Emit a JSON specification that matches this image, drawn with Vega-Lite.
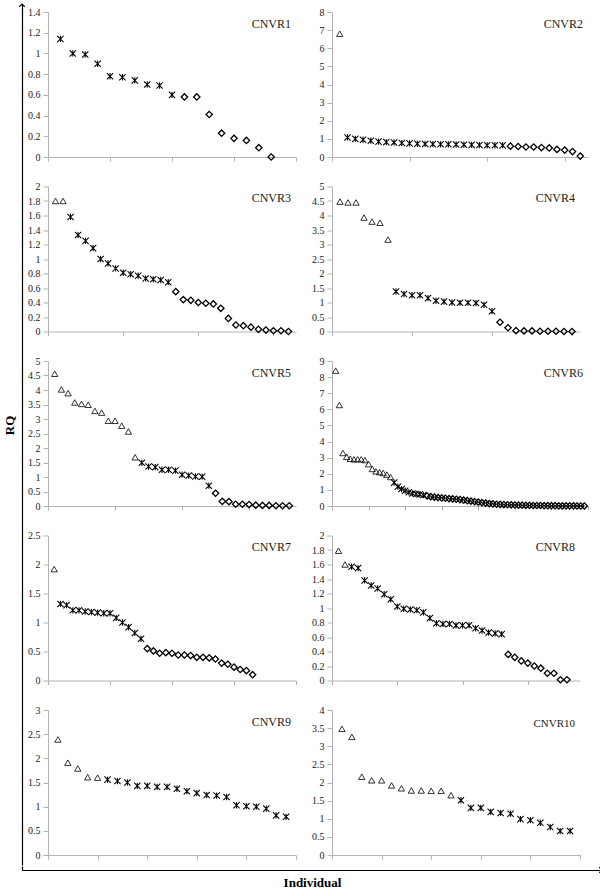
{
  "$schema": "https://vega.github.io/schema/vega-lite/v6.json",
  "padding": {"left": 4, "top": 1, "right": 0, "bottom": 0},
  "background": "white",
  "config": {
    "font": "Liberation Serif",
    "view": {"stroke": null},
    "axis": {"grid": false, "domainColor": "#b3b3b3", "tickColor": "#b3b3b3", "labelFont": "Liberation Serif", "labelFontSize": 10, "labelColor": "#222222", "tickSize": 4, "labelPadding": 3},
    "axisY": {"tickSize": 5},
    "axisX": {"labels": false},
    "title": {"font": "Liberation Serif", "fontSize": 12, "fontWeight": "normal", "color": "#222222", "anchor": "end", "frame": "group", "offset": -23.5, "dx": -5},
    "point": {"filled": false, "stroke": "black", "strokeWidth": 0.9, "size": 40, "opacity": 1}
  },
  "title": {"text": "RQ", "orient": "left", "anchor": "middle", "frame": "bounds", "offset": 0, "dx": 20, "fontSize": 13, "fontWeight": "bold", "color": "black", "font": "Liberation Serif"},
  "datasets": {
    "c1": [
      {"i": 1, "rq": 1.14, "t": "ast"}, {"i": 2, "rq": 1.0, "t": "ast"}, {"i": 3, "rq": 0.99, "t": "ast"}, {"i": 4, "rq": 0.9, "t": "ast"}, {"i": 5, "rq": 0.78, "t": "ast"}, {"i": 6, "rq": 0.77, "t": "ast"}, {"i": 7, "rq": 0.74, "t": "ast"}, {"i": 8, "rq": 0.7, "t": "ast"}, {"i": 9, "rq": 0.69, "t": "ast"}, {"i": 10, "rq": 0.6, "t": "ast"},
      {"i": 11, "rq": 0.58, "t": "dia"}, {"i": 12, "rq": 0.58, "t": "dia"}, {"i": 13, "rq": 0.41, "t": "dia"}, {"i": 14, "rq": 0.23, "t": "dia"}, {"i": 15, "rq": 0.18, "t": "dia"}, {"i": 16, "rq": 0.16, "t": "dia"}, {"i": 17, "rq": 0.09, "t": "dia"}, {"i": 18, "rq": 0.0, "t": "dia"}
    ],
    "c2": [
      {"i": 1, "rq": 6.8, "t": "tri"},
      {"i": 2, "rq": 1.08, "t": "ast"}, {"i": 3, "rq": 1.0, "t": "ast"}, {"i": 4, "rq": 0.95, "t": "ast"}, {"i": 5, "rq": 0.9, "t": "ast"}, {"i": 6, "rq": 0.85, "t": "ast"}, {"i": 7, "rq": 0.82, "t": "ast"}, {"i": 8, "rq": 0.8, "t": "ast"}, {"i": 9, "rq": 0.77, "t": "ast"}, {"i": 10, "rq": 0.75, "t": "ast"}, {"i": 11, "rq": 0.73, "t": "ast"}, {"i": 12, "rq": 0.72, "t": "ast"}, {"i": 13, "rq": 0.71, "t": "ast"}, {"i": 14, "rq": 0.7, "t": "ast"}, {"i": 15, "rq": 0.7, "t": "ast"}, {"i": 16, "rq": 0.69, "t": "ast"}, {"i": 17, "rq": 0.68, "t": "ast"}, {"i": 18, "rq": 0.67, "t": "ast"}, {"i": 19, "rq": 0.66, "t": "ast"}, {"i": 20, "rq": 0.65, "t": "ast"}, {"i": 21, "rq": 0.65, "t": "ast"}, {"i": 22, "rq": 0.64, "t": "ast"},
      {"i": 23, "rq": 0.6, "t": "dia"}, {"i": 24, "rq": 0.58, "t": "dia"}, {"i": 25, "rq": 0.55, "t": "dia"}, {"i": 26, "rq": 0.55, "t": "dia"}, {"i": 27, "rq": 0.52, "t": "dia"}, {"i": 28, "rq": 0.5, "t": "dia"}, {"i": 29, "rq": 0.42, "t": "dia"}, {"i": 30, "rq": 0.38, "t": "dia"}, {"i": 31, "rq": 0.3, "t": "dia"}, {"i": 32, "rq": 0.05, "t": "dia"}
    ],
    "c3": [
      {"i": 1, "rq": 1.8, "t": "tri"}, {"i": 2, "rq": 1.8, "t": "tri"},
      {"i": 3, "rq": 1.58, "t": "ast"}, {"i": 4, "rq": 1.33, "t": "ast"}, {"i": 5, "rq": 1.25, "t": "ast"}, {"i": 6, "rq": 1.15, "t": "ast"}, {"i": 7, "rq": 1.0, "t": "ast"}, {"i": 8, "rq": 0.94, "t": "ast"}, {"i": 9, "rq": 0.87, "t": "ast"}, {"i": 10, "rq": 0.81, "t": "ast"}, {"i": 11, "rq": 0.79, "t": "ast"}, {"i": 12, "rq": 0.77, "t": "ast"}, {"i": 13, "rq": 0.73, "t": "ast"}, {"i": 14, "rq": 0.72, "t": "ast"}, {"i": 15, "rq": 0.71, "t": "ast"}, {"i": 16, "rq": 0.68, "t": "ast"},
      {"i": 17, "rq": 0.55, "t": "dia"}, {"i": 18, "rq": 0.44, "t": "dia"}, {"i": 19, "rq": 0.43, "t": "dia"}, {"i": 20, "rq": 0.4, "t": "dia"}, {"i": 21, "rq": 0.39, "t": "dia"}, {"i": 22, "rq": 0.38, "t": "dia"}, {"i": 23, "rq": 0.32, "t": "dia"}, {"i": 24, "rq": 0.18, "t": "dia"}, {"i": 25, "rq": 0.09, "t": "dia"}, {"i": 26, "rq": 0.08, "t": "dia"}, {"i": 27, "rq": 0.06, "t": "dia"}, {"i": 28, "rq": 0.03, "t": "dia"}, {"i": 29, "rq": 0.02, "t": "dia"}, {"i": 30, "rq": 0.01, "t": "dia"}, {"i": 31, "rq": 0.01, "t": "dia"}, {"i": 32, "rq": 0.0, "t": "dia"}
    ],
    "c4": [
      {"i": 1, "rq": 4.48, "t": "tri"}, {"i": 2, "rq": 4.45, "t": "tri"}, {"i": 3, "rq": 4.45, "t": "tri"}, {"i": 4, "rq": 3.93, "t": "tri"}, {"i": 5, "rq": 3.79, "t": "tri"}, {"i": 6, "rq": 3.75, "t": "tri"}, {"i": 7, "rq": 3.17, "t": "tri"},
      {"i": 8, "rq": 1.38, "t": "ast"}, {"i": 9, "rq": 1.29, "t": "ast"}, {"i": 10, "rq": 1.25, "t": "ast"}, {"i": 11, "rq": 1.25, "t": "ast"}, {"i": 12, "rq": 1.15, "t": "ast"}, {"i": 13, "rq": 1.06, "t": "ast"}, {"i": 14, "rq": 1.03, "t": "ast"}, {"i": 15, "rq": 1.0, "t": "ast"}, {"i": 16, "rq": 0.99, "t": "ast"}, {"i": 17, "rq": 0.99, "t": "ast"}, {"i": 18, "rq": 0.98, "t": "ast"}, {"i": 19, "rq": 0.92, "t": "ast"}, {"i": 20, "rq": 0.7, "t": "ast"},
      {"i": 21, "rq": 0.32, "t": "dia"}, {"i": 22, "rq": 0.13, "t": "dia"}, {"i": 23, "rq": 0.03, "t": "dia"}, {"i": 24, "rq": 0.02, "t": "dia"}, {"i": 25, "rq": 0.02, "t": "dia"}, {"i": 26, "rq": 0.01, "t": "dia"}, {"i": 27, "rq": 0.01, "t": "dia"}, {"i": 28, "rq": 0.01, "t": "dia"}, {"i": 29, "rq": 0.0, "t": "dia"}, {"i": 30, "rq": 0.0, "t": "dia"}
    ],
    "c5": [
      {"i": 1, "rq": 4.56, "t": "tri"}, {"i": 2, "rq": 4.02, "t": "tri"}, {"i": 3, "rq": 3.89, "t": "tri"}, {"i": 4, "rq": 3.57, "t": "tri"}, {"i": 5, "rq": 3.52, "t": "tri"}, {"i": 6, "rq": 3.49, "t": "tri"}, {"i": 7, "rq": 3.28, "t": "tri"}, {"i": 8, "rq": 3.22, "t": "tri"}, {"i": 9, "rq": 2.94, "t": "tri"}, {"i": 10, "rq": 2.94, "t": "tri"}, {"i": 11, "rq": 2.77, "t": "tri"}, {"i": 12, "rq": 2.57, "t": "tri"}, {"i": 13, "rq": 1.68, "t": "tri"},
      {"i": 14, "rq": 1.49, "t": "ast"}, {"i": 15, "rq": 1.36, "t": "ast"}, {"i": 16, "rq": 1.34, "t": "ast"}, {"i": 17, "rq": 1.25, "t": "ast"}, {"i": 18, "rq": 1.25, "t": "ast"}, {"i": 19, "rq": 1.22, "t": "ast"}, {"i": 20, "rq": 1.08, "t": "ast"}, {"i": 21, "rq": 1.05, "t": "ast"}, {"i": 22, "rq": 1.02, "t": "ast"}, {"i": 23, "rq": 1.01, "t": "ast"}, {"i": 24, "rq": 0.7, "t": "ast"},
      {"i": 25, "rq": 0.44, "t": "dia"}, {"i": 26, "rq": 0.16, "t": "dia"}, {"i": 27, "rq": 0.15, "t": "dia"}, {"i": 28, "rq": 0.06, "t": "dia"}, {"i": 29, "rq": 0.06, "t": "dia"}, {"i": 30, "rq": 0.05, "t": "dia"}, {"i": 31, "rq": 0.03, "t": "dia"}, {"i": 32, "rq": 0.02, "t": "dia"}, {"i": 33, "rq": 0.02, "t": "dia"}, {"i": 34, "rq": 0.01, "t": "dia"}, {"i": 35, "rq": 0.01, "t": "dia"}, {"i": 36, "rq": 0.01, "t": "dia"}
    ],
    "c6": [
      {"i": 1, "rq": 8.4, "t": "tri"}, {"i": 2, "rq": 6.27, "t": "tri"}, {"i": 3, "rq": 3.29, "t": "tri"}, {"i": 4, "rq": 3.05, "t": "tri"}, {"i": 5, "rq": 2.93, "t": "tri"}, {"i": 6, "rq": 2.9, "t": "tri"}, {"i": 7, "rq": 2.9, "t": "tri"}, {"i": 8, "rq": 2.9, "t": "tri"}, {"i": 9, "rq": 2.85, "t": "tri"}, {"i": 10, "rq": 2.6, "t": "tri"}, {"i": 11, "rq": 2.3, "t": "tri"}, {"i": 12, "rq": 2.15, "t": "tri"}, {"i": 13, "rq": 2.1, "t": "tri"}, {"i": 14, "rq": 2.05, "t": "tri"}, {"i": 15, "rq": 1.95, "t": "tri"}, {"i": 16, "rq": 1.8, "t": "tri"},
      {"i": 17, "rq": 1.45, "t": "ast"}, {"i": 18, "rq": 1.2, "t": "ast"}, {"i": 19, "rq": 1.05, "t": "ast"}, {"i": 20, "rq": 0.95, "t": "ast"}, {"i": 21, "rq": 0.85, "t": "ast"}, {"i": 22, "rq": 0.78, "t": "ast"}, {"i": 23, "rq": 0.75, "t": "ast"}, {"i": 24, "rq": 0.72, "t": "ast"}, {"i": 25, "rq": 0.68, "t": "ast"},
      {"i": 26, "rq": 0.62, "t": "dia"}, {"i": 27, "rq": 0.58, "t": "dia"}, {"i": 28, "rq": 0.55, "t": "dia"}, {"i": 29, "rq": 0.52, "t": "dia"}, {"i": 30, "rq": 0.5, "t": "dia"}, {"i": 31, "rq": 0.48, "t": "dia"}, {"i": 32, "rq": 0.46, "t": "dia"}, {"i": 33, "rq": 0.44, "t": "dia"}, {"i": 34, "rq": 0.42, "t": "dia"}, {"i": 35, "rq": 0.4, "t": "dia"}, {"i": 36, "rq": 0.36, "t": "dia"}, {"i": 37, "rq": 0.33, "t": "dia"}, {"i": 38, "rq": 0.3, "t": "dia"}, {"i": 39, "rq": 0.27, "t": "dia"}, {"i": 40, "rq": 0.24, "t": "dia"}, {"i": 41, "rq": 0.21, "t": "dia"}, {"i": 42, "rq": 0.18, "t": "dia"}, {"i": 43, "rq": 0.15, "t": "dia"}, {"i": 44, "rq": 0.13, "t": "dia"}, {"i": 45, "rq": 0.11, "t": "dia"}, {"i": 46, "rq": 0.1, "t": "dia"}, {"i": 47, "rq": 0.09, "t": "dia"}, {"i": 48, "rq": 0.08, "t": "dia"}, {"i": 49, "rq": 0.07, "t": "dia"}, {"i": 50, "rq": 0.06, "t": "dia"}, {"i": 51, "rq": 0.05, "t": "dia"}, {"i": 52, "rq": 0.05, "t": "dia"}, {"i": 53, "rq": 0.04, "t": "dia"}, {"i": 54, "rq": 0.04, "t": "dia"}, {"i": 55, "rq": 0.03, "t": "dia"}, {"i": 56, "rq": 0.03, "t": "dia"}, {"i": 57, "rq": 0.03, "t": "dia"}, {"i": 58, "rq": 0.02, "t": "dia"}, {"i": 59, "rq": 0.02, "t": "dia"}, {"i": 60, "rq": 0.02, "t": "dia"}, {"i": 61, "rq": 0.02, "t": "dia"}, {"i": 62, "rq": 0.01, "t": "dia"}, {"i": 63, "rq": 0.01, "t": "dia"}, {"i": 64, "rq": 0.01, "t": "dia"}, {"i": 65, "rq": 0.01, "t": "dia"}, {"i": 66, "rq": 0.01, "t": "dia"}, {"i": 67, "rq": 0.0, "t": "dia"}, {"i": 68, "rq": 0.0, "t": "dia"}, {"i": 69, "rq": 0.0, "t": "dia"}
    ],
    "c7": [
      {"i": 1, "rq": 1.92, "t": "tri"},
      {"i": 2, "rq": 1.32, "t": "ast"}, {"i": 3, "rq": 1.3, "t": "ast"}, {"i": 4, "rq": 1.21, "t": "ast"}, {"i": 5, "rq": 1.21, "t": "ast"}, {"i": 6, "rq": 1.19, "t": "ast"}, {"i": 7, "rq": 1.18, "t": "ast"}, {"i": 8, "rq": 1.17, "t": "ast"}, {"i": 9, "rq": 1.16, "t": "ast"}, {"i": 10, "rq": 1.16, "t": "ast"}, {"i": 11, "rq": 1.08, "t": "ast"}, {"i": 12, "rq": 1.0, "t": "ast"}, {"i": 13, "rq": 0.92, "t": "ast"}, {"i": 14, "rq": 0.82, "t": "ast"}, {"i": 15, "rq": 0.72, "t": "ast"},
      {"i": 16, "rq": 0.55, "t": "dia"}, {"i": 17, "rq": 0.51, "t": "dia"}, {"i": 18, "rq": 0.47, "t": "dia"}, {"i": 19, "rq": 0.48, "t": "dia"}, {"i": 20, "rq": 0.47, "t": "dia"}, {"i": 21, "rq": 0.44, "t": "dia"}, {"i": 22, "rq": 0.44, "t": "dia"}, {"i": 23, "rq": 0.43, "t": "dia"}, {"i": 24, "rq": 0.4, "t": "dia"}, {"i": 25, "rq": 0.4, "t": "dia"}, {"i": 26, "rq": 0.39, "t": "dia"}, {"i": 27, "rq": 0.37, "t": "dia"}, {"i": 28, "rq": 0.3, "t": "dia"}, {"i": 29, "rq": 0.28, "t": "dia"}, {"i": 30, "rq": 0.23, "t": "dia"}, {"i": 31, "rq": 0.19, "t": "dia"}, {"i": 32, "rq": 0.17, "t": "dia"}, {"i": 33, "rq": 0.1, "t": "dia"}
    ],
    "c8": [
      {"i": 1, "rq": 1.79, "t": "tri"}, {"i": 2, "rq": 1.6, "t": "tri"},
      {"i": 3, "rq": 1.57, "t": "ast"}, {"i": 4, "rq": 1.55, "t": "ast"}, {"i": 5, "rq": 1.38, "t": "ast"}, {"i": 6, "rq": 1.31, "t": "ast"}, {"i": 7, "rq": 1.27, "t": "ast"}, {"i": 8, "rq": 1.19, "t": "ast"}, {"i": 9, "rq": 1.12, "t": "ast"}, {"i": 10, "rq": 1.02, "t": "ast"}, {"i": 11, "rq": 0.99, "t": "ast"}, {"i": 12, "rq": 0.98, "t": "ast"}, {"i": 13, "rq": 0.97, "t": "ast"}, {"i": 14, "rq": 0.94, "t": "ast"}, {"i": 15, "rq": 0.86, "t": "ast"}, {"i": 16, "rq": 0.79, "t": "ast"}, {"i": 17, "rq": 0.78, "t": "ast"}, {"i": 18, "rq": 0.78, "t": "ast"}, {"i": 19, "rq": 0.76, "t": "ast"}, {"i": 20, "rq": 0.76, "t": "ast"}, {"i": 21, "rq": 0.76, "t": "ast"}, {"i": 22, "rq": 0.72, "t": "ast"}, {"i": 23, "rq": 0.69, "t": "ast"}, {"i": 24, "rq": 0.66, "t": "ast"}, {"i": 25, "rq": 0.65, "t": "ast"}, {"i": 26, "rq": 0.64, "t": "ast"},
      {"i": 27, "rq": 0.36, "t": "dia"}, {"i": 28, "rq": 0.32, "t": "dia"}, {"i": 29, "rq": 0.27, "t": "dia"}, {"i": 30, "rq": 0.24, "t": "dia"}, {"i": 31, "rq": 0.2, "t": "dia"}, {"i": 32, "rq": 0.17, "t": "dia"}, {"i": 33, "rq": 0.1, "t": "dia"}, {"i": 34, "rq": 0.1, "t": "dia"}, {"i": 35, "rq": 0.01, "t": "dia"}, {"i": 36, "rq": 0.01, "t": "dia"}
    ],
    "c9": [
      {"i": 1, "rq": 2.39, "t": "tri"}, {"i": 2, "rq": 1.91, "t": "tri"}, {"i": 3, "rq": 1.79, "t": "tri"}, {"i": 4, "rq": 1.61, "t": "tri"}, {"i": 5, "rq": 1.6, "t": "tri"},
      {"i": 6, "rq": 1.56, "t": "ast"}, {"i": 7, "rq": 1.53, "t": "ast"}, {"i": 8, "rq": 1.5, "t": "ast"}, {"i": 9, "rq": 1.43, "t": "ast"}, {"i": 10, "rq": 1.43, "t": "ast"}, {"i": 11, "rq": 1.41, "t": "ast"}, {"i": 12, "rq": 1.41, "t": "ast"}, {"i": 13, "rq": 1.37, "t": "ast"}, {"i": 14, "rq": 1.32, "t": "ast"}, {"i": 15, "rq": 1.28, "t": "ast"}, {"i": 16, "rq": 1.24, "t": "ast"}, {"i": 17, "rq": 1.23, "t": "ast"}, {"i": 18, "rq": 1.2, "t": "ast"}, {"i": 19, "rq": 1.03, "t": "ast"}, {"i": 20, "rq": 1.01, "t": "ast"}, {"i": 21, "rq": 1.0, "t": "ast"}, {"i": 22, "rq": 0.96, "t": "ast"}, {"i": 23, "rq": 0.82, "t": "ast"}, {"i": 24, "rq": 0.79, "t": "ast"}
    ],
    "c10": [
      {"i": 1, "rq": 3.48, "t": "tri"}, {"i": 2, "rq": 3.26, "t": "tri"}, {"i": 3, "rq": 2.16, "t": "tri"}, {"i": 4, "rq": 2.06, "t": "tri"}, {"i": 5, "rq": 2.06, "t": "tri"}, {"i": 6, "rq": 1.92, "t": "tri"}, {"i": 7, "rq": 1.84, "t": "tri"}, {"i": 8, "rq": 1.78, "t": "tri"}, {"i": 9, "rq": 1.78, "t": "tri"}, {"i": 10, "rq": 1.77, "t": "tri"}, {"i": 11, "rq": 1.77, "t": "tri"}, {"i": 12, "rq": 1.65, "t": "tri"},
      {"i": 13, "rq": 1.51, "t": "ast"}, {"i": 14, "rq": 1.3, "t": "ast"}, {"i": 15, "rq": 1.3, "t": "ast"}, {"i": 16, "rq": 1.19, "t": "ast"}, {"i": 17, "rq": 1.16, "t": "ast"}, {"i": 18, "rq": 1.14, "t": "ast"}, {"i": 19, "rq": 0.99, "t": "ast"}, {"i": 20, "rq": 0.96, "t": "ast"}, {"i": 21, "rq": 0.89, "t": "ast"}, {"i": 22, "rq": 0.77, "t": "ast"}, {"i": 23, "rq": 0.66, "t": "ast"}, {"i": 24, "rq": 0.66, "t": "ast"}
    ]
  },
  "spacing": 0,
  "vconcat": [
    {
      "spacing": 0,
      "hconcat": [
        {
          "width": 1,
          "height": 861,
          "data": {"values": [{}]},
          "mark": {"type": "point", "shape": "M-1,1L0,0L1,1", "size": 30, "filled": false, "stroke": "black", "strokeWidth": 1.1},
          "encoding": {
            "x": {"datum": 0, "type": "quantitative", "scale": {"domain": [0, 1], "nice": false}, "axis": null},
            "y": {"datum": 1, "type": "quantitative", "scale": {"domain": [0, 1], "nice": false},
                  "axis": {"domainColor": "black", "domainWidth": 1.2, "ticks": false, "labels": false, "title": null}}
          }
        },
        {
          "spacing": 1,
          "vconcat": [
            {
              "width": 1,
              "height": 1,
              "data": {"values": [{}]},
              "mark": {"type": "point", "opacity": 0, "size": 1},
              "encoding": {
                "x": {"datum": 0, "type": "quantitative", "scale": {"domain": [0, 1]}, "axis": null},
                "y": {"datum": 0, "type": "quantitative", "scale": {"domain": [0, 1]}, "axis": null}
              }
            },
            {
              "columns": 2,
              "align": "each",
              "spacing": {"row": 18.5, "column": 14},
              "concat": [
                {
                  "width": 248, "height": 145, "title": "CNVR1", "data": {"name": "c1"}, "mark": "point",
                  "encoding": {
                    "x": {"field": "i", "type": "quantitative", "scale": {"domain": [0, 20], "nice": false}, "axis": {"values": [0, 5, 10, 15, 20], "title": null}},
                    "y": {"field": "rq", "type": "quantitative", "scale": {"domain": [0, 1.4], "nice": false}, "axis": {"values": [0, 0.2, 0.4, 0.6, 0.8, 1, 1.2, 1.4], "format": "~g", "title": null}},
                    "shape": {"field": "t", "type": "nominal", "scale": {"domain": ["tri", "ast", "dia"], "range": ["triangle-up", "M-1,-1L1,1M-1,1L1,-1M0,-1L0,1", "diamond"]}, "legend": null},
                    "strokeWidth": {"field": "t", "type": "nominal", "scale": {"domain": ["tri", "ast", "dia"], "range": [0.8, 1.3, 0.8]}, "legend": null}
                  }
                },
                {
                  "width": 256, "height": 145, "title": "CNVR2", "data": {"name": "c2"}, "mark": "point",
                  "encoding": {
                    "x": {"field": "i", "type": "quantitative", "scale": {"domain": [0, 33], "nice": false}, "axis": {"values": [0, 10, 20, 30], "title": null}},
                    "y": {"field": "rq", "type": "quantitative", "scale": {"domain": [0, 8], "nice": false}, "axis": {"values": [0, 1, 2, 3, 4, 5, 6, 7, 8], "format": "~g", "title": null}},
                    "shape": {"field": "t", "type": "nominal", "scale": {"domain": ["tri", "ast", "dia"], "range": ["triangle-up", "M-1,-1L1,1M-1,1L1,-1M0,-1L0,1", "diamond"]}, "legend": null},
                    "strokeWidth": {"field": "t", "type": "nominal", "scale": {"domain": ["tri", "ast", "dia"], "range": [0.8, 1.3, 0.8]}, "legend": null}
                  }
                },
                {
                  "width": 248, "height": 145, "title": "CNVR3", "data": {"name": "c3"}, "mark": "point",
                  "encoding": {
                    "x": {"field": "i", "type": "quantitative", "scale": {"domain": [0, 33], "nice": false}, "axis": {"values": [0, 10, 20, 30], "title": null}},
                    "y": {"field": "rq", "type": "quantitative", "scale": {"domain": [0, 2], "nice": false}, "axis": {"values": [0, 0.2, 0.4, 0.6, 0.8, 1, 1.2, 1.4, 1.6, 1.8, 2], "format": "~g", "title": null}},
                    "shape": {"field": "t", "type": "nominal", "scale": {"domain": ["tri", "ast", "dia"], "range": ["triangle-up", "M-1,-1L1,1M-1,1L1,-1M0,-1L0,1", "diamond"]}, "legend": null},
                    "strokeWidth": {"field": "t", "type": "nominal", "scale": {"domain": ["tri", "ast", "dia"], "range": [0.8, 1.3, 0.8]}, "legend": null}
                  }
                },
                {
                  "width": 248, "height": 145, "title": "CNVR4", "data": {"name": "c4"}, "mark": "point",
                  "encoding": {
                    "x": {"field": "i", "type": "quantitative", "scale": {"domain": [0, 31], "nice": false}, "axis": {"values": [0, 10, 20, 30], "title": null}},
                    "y": {"field": "rq", "type": "quantitative", "scale": {"domain": [0, 5], "nice": false}, "axis": {"values": [0, 0.5, 1, 1.5, 2, 2.5, 3, 3.5, 4, 4.5, 5], "format": "~g", "title": null}},
                    "shape": {"field": "t", "type": "nominal", "scale": {"domain": ["tri", "ast", "dia"], "range": ["triangle-up", "M-1,-1L1,1M-1,1L1,-1M0,-1L0,1", "diamond"]}, "legend": null},
                    "strokeWidth": {"field": "t", "type": "nominal", "scale": {"domain": ["tri", "ast", "dia"], "range": [0.8, 1.3, 0.8]}, "legend": null}
                  }
                },
                {
                  "width": 248, "height": 145, "title": "CNVR5", "data": {"name": "c5"}, "mark": "point",
                  "encoding": {
                    "x": {"field": "i", "type": "quantitative", "scale": {"domain": [0, 37], "nice": false}, "axis": {"values": [0, 10, 20, 30], "title": null}},
                    "y": {"field": "rq", "type": "quantitative", "scale": {"domain": [0, 5], "nice": false}, "axis": {"values": [0, 0.5, 1, 1.5, 2, 2.5, 3, 3.5, 4, 4.5, 5], "format": "~g", "title": null}},
                    "shape": {"field": "t", "type": "nominal", "scale": {"domain": ["tri", "ast", "dia"], "range": ["triangle-up", "M-1,-1L1,1M-1,1L1,-1M0,-1L0,1", "diamond"]}, "legend": null},
                    "strokeWidth": {"field": "t", "type": "nominal", "scale": {"domain": ["tri", "ast", "dia"], "range": [0.8, 1.3, 0.8]}, "legend": null}
                  }
                },
                {
                  "width": 256, "height": 145, "title": "CNVR6", "data": {"name": "c6"}, "mark": "point",
                  "encoding": {
                    "x": {"field": "i", "type": "quantitative", "scale": {"domain": [0, 70], "nice": false}, "axis": {"values": [0, 10, 20, 30, 40, 50, 60, 70], "title": null}},
                    "y": {"field": "rq", "type": "quantitative", "scale": {"domain": [0, 9], "nice": false}, "axis": {"values": [0, 1, 2, 3, 4, 5, 6, 7, 8, 9], "format": "~g", "title": null}},
                    "shape": {"field": "t", "type": "nominal", "scale": {"domain": ["tri", "ast", "dia"], "range": ["triangle-up", "M-1,-1L1,1M-1,1L1,-1M0,-1L0,1", "diamond"]}, "legend": null},
                    "strokeWidth": {"field": "t", "type": "nominal", "scale": {"domain": ["tri", "ast", "dia"], "range": [0.8, 1.3, 0.8]}, "legend": null}
                  }
                },
                {
                  "width": 248, "height": 145, "title": "CNVR7", "data": {"name": "c7"}, "mark": "point",
                  "encoding": {
                    "x": {"field": "i", "type": "quantitative", "scale": {"domain": [0, 40], "nice": false}, "axis": {"values": [0, 10, 20, 30, 40], "title": null}},
                    "y": {"field": "rq", "type": "quantitative", "scale": {"domain": [0, 2.5], "nice": false}, "axis": {"values": [0, 0.5, 1, 1.5, 2, 2.5], "format": "~g", "title": null}},
                    "shape": {"field": "t", "type": "nominal", "scale": {"domain": ["tri", "ast", "dia"], "range": ["triangle-up", "M-1,-1L1,1M-1,1L1,-1M0,-1L0,1", "diamond"]}, "legend": null},
                    "strokeWidth": {"field": "t", "type": "nominal", "scale": {"domain": ["tri", "ast", "dia"], "range": [0.8, 1.3, 0.8]}, "legend": null}
                  }
                },
                {
                  "width": 248, "height": 145, "title": "CNVR8", "data": {"name": "c8"}, "mark": "point",
                  "encoding": {
                    "x": {"field": "i", "type": "quantitative", "scale": {"domain": [0, 38], "nice": false}, "axis": {"values": [0, 10, 20, 30], "title": null}},
                    "y": {"field": "rq", "type": "quantitative", "scale": {"domain": [0, 2], "nice": false}, "axis": {"values": [0, 0.2, 0.4, 0.6, 0.8, 1, 1.2, 1.4, 1.6, 1.8, 2], "format": "~g", "title": null}},
                    "shape": {"field": "t", "type": "nominal", "scale": {"domain": ["tri", "ast", "dia"], "range": ["triangle-up", "M-1,-1L1,1M-1,1L1,-1M0,-1L0,1", "diamond"]}, "legend": null},
                    "strokeWidth": {"field": "t", "type": "nominal", "scale": {"domain": ["tri", "ast", "dia"], "range": [0.8, 1.3, 0.8]}, "legend": null}
                  }
                },
                {
                  "width": 248, "height": 145, "title": "CNVR9", "data": {"name": "c9"}, "mark": "point",
                  "encoding": {
                    "x": {"field": "i", "type": "quantitative", "scale": {"domain": [0, 25], "nice": false}, "axis": {"values": [0, 5, 10, 15, 20, 25], "title": null}},
                    "y": {"field": "rq", "type": "quantitative", "scale": {"domain": [0, 3], "nice": false}, "axis": {"values": [0, 0.5, 1, 1.5, 2, 2.5, 3], "format": "~g", "title": null}},
                    "shape": {"field": "t", "type": "nominal", "scale": {"domain": ["tri", "ast", "dia"], "range": ["triangle-up", "M-1,-1L1,1M-1,1L1,-1M0,-1L0,1", "diamond"]}, "legend": null},
                    "strokeWidth": {"field": "t", "type": "nominal", "scale": {"domain": ["tri", "ast", "dia"], "range": [0.8, 1.3, 0.8]}, "legend": null}
                  }
                },
                {
                  "width": 248, "height": 145, "title": {"text": "CNVR10", "fontSize": 11}, "data": {"name": "c10"}, "mark": "point",
                  "encoding": {
                    "x": {"field": "i", "type": "quantitative", "scale": {"domain": [0, 25], "nice": false}, "axis": {"values": [0, 5, 10, 15, 20, 25], "title": null}},
                    "y": {"field": "rq", "type": "quantitative", "scale": {"domain": [0, 4], "nice": false}, "axis": {"values": [0, 0.5, 1, 1.5, 2, 2.5, 3, 3.5, 4], "format": "~g", "title": null}},
                    "shape": {"field": "t", "type": "nominal", "scale": {"domain": ["tri", "ast", "dia"], "range": ["triangle-up", "M-1,-1L1,1M-1,1L1,-1M0,-1L0,1", "diamond"]}, "legend": null},
                    "strokeWidth": {"field": "t", "type": "nominal", "scale": {"domain": ["tri", "ast", "dia"], "range": [0.8, 1.3, 0.8]}, "legend": null}
                  }
                }
              ]
            }
          ]
        }
      ]
    },
    {
      "width": 580,
      "height": 4,
      "data": {"values": [{}]},
      "mark": {"type": "point", "shape": "M-1,-1L0,0L-1,1", "size": 30, "filled": false, "stroke": "black", "strokeWidth": 1.1},
      "encoding": {
        "x": {"datum": 1, "type": "quantitative", "scale": {"domain": [0, 1], "nice": false},
              "axis": {"domainColor": "black", "domainWidth": 1.2, "ticks": false, "labels": false, "title": "Individual", "titleFont": "Liberation Serif", "titleFontSize": 13, "titleFontWeight": "bold", "titleColor": "black", "titlePadding": 6}},
        "y": {"datum": 0, "type": "quantitative", "scale": {"domain": [0, 1], "nice": false},
              "axis": {"domainColor": "black", "domainWidth": 1.2, "ticks": false, "labels": false, "title": null}}
      }
    }
  ]
}
